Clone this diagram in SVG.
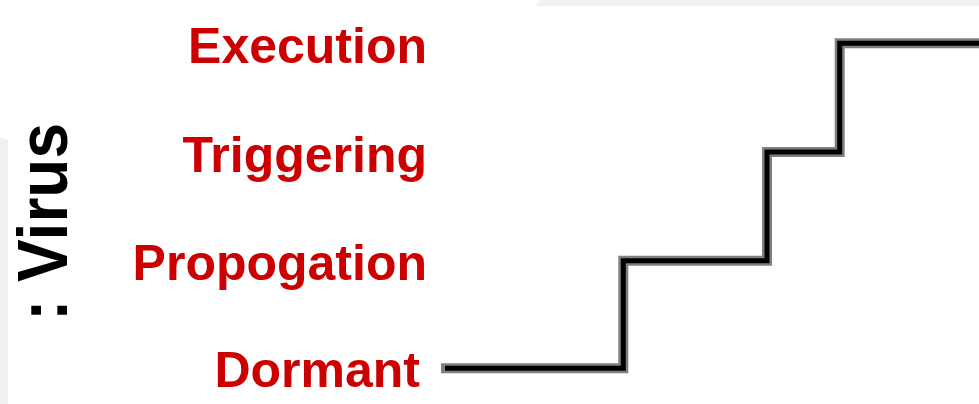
<svg xmlns="http://www.w3.org/2000/svg" width="979" height="404" viewBox="0 0 979 404">
<style>
.lbl{font-family:"Liberation Sans",Arial,sans-serif;font-weight:bold;font-size:50px;fill:#cc0000;text-anchor:end}
.ttl{font-family:"Liberation Sans",Arial,sans-serif;font-weight:bold;font-size:64px;fill:#000}
.edge{fill:none;stroke:#808080;stroke-width:10;stroke-linejoin:miter}
.core{fill:none;stroke:#000;stroke-width:5;stroke-linejoin:miter}
</style>
<rect width="979" height="404" fill="#fff"/>
<polygon points="0,137 8,140 8,404 0,404" fill="#f0f0f0"/>
<polygon points="540,0 979,0 979,6 535,6" fill="#f2f2f2"/>
<g id="title">
<text class="ttl" transform="translate(67,321) rotate(-90) scale(1,1.1)">: Virus</text>
</g>
<g id="execution"><text class="lbl" x="427" y="63">Execution</text></g>
<g id="triggering"><text class="lbl" x="427" y="172">Triggering</text></g>
<g id="propogation"><text class="lbl" x="427" y="280">Propogation</text></g>
<g id="dormant"><text class="lbl" x="420" y="387">Dormant</text></g>
<g id="connectors">
<path class="edge" d="M441 368.3 H623.3 V260.8 H767 V152 H839.7 V43.3 H979"/>
<path class="core" d="M445 368.3 H623.3 V260.8 H767 V152 H839.7 V43.3 H979"/>
</g>
</svg>
